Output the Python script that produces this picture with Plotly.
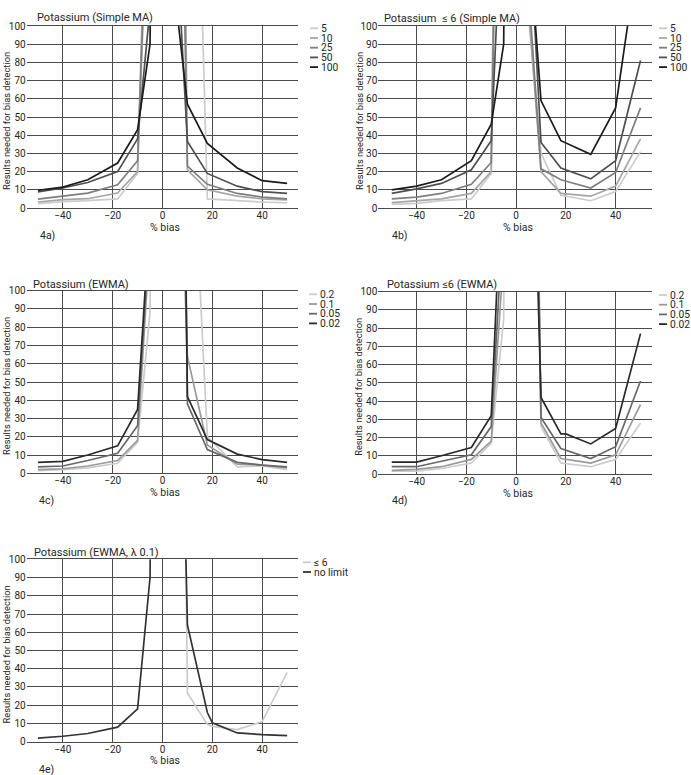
import plotly.graph_objects as go

W, H = 691, 775

# ---------------- data ----------------
bias = [-50, -40, -30, -18, -10, -5, 0, 5, 10, 18, 20, 30, 40, 50]

# 4a) Potassium (Simple MA)
ma_labels = ["5", "10", "25", "50", "100"]
ma_5   = [2.4, 3.5, 4.0, 5.0, 19, 203, 1000, 1000, 400, 5.0, None, 4.0, 3.3, 2.8]
ma_10  = [3.3, 4.6, 5.1, 8.2, 20, 255, 1000, 700, 21, 10, None, 6.5, 5.0, 4.5]
ma_25  = [4.9, 6.4, 8.2, 12.8, 26, 211, 1000, 400, 23, 13, None, 8.0, 6.0, 5.0]
ma_50  = [8.8, 11, 14, 20, 38, 110, 1000, 163, 36.5, 19, None, 12, 9.0, 8.0]
ma_100 = [9.7, 11.5, 15.5, 24.7, 43, 90, 1000, 118, 57, 35.5, None, 22, 15, 13.5]

# 4b) Potassium <= 6 (Simple MA)
mb_5   = [2.0, 2.5, 4.0, 5.0, 19, 590, 1000, 105, 30, 7.0, None, 4.0, 9.0, 31]
mb_10  = [3.0, 4.0, 5.0, 8.0, 20, 590, 1000, 110, 20, 8.0, None, 6.5, 12, 38]
mb_25  = [5.0, 6.0, 8.0, 13, 25, 400, 1000, 120, 21.5, 15.5, None, 11, 19.5, 55]
mb_50  = [8.0, 10.5, 13.5, 21, 37, 190, 1000, 164, 36, 22, None, 16, 26, 81]
mb_100 = [10, 12, 15.5, 26, 46, 90, 1000, 152, 59, 37, None, 29.5, 55, 149]

# 4c) Potassium (EWMA)
ew_labels = ["0.2", "0.1", "0.05", "0.02"]
ec_02  = [1.5, 2.0, 3.0, 5.5, 17, 88, 1000, 1000, 242, 20, None, 3.5, 4.0, 2.0]
ec_01  = [2.0, 2.5, 4.0, 7.0, 18, 129, 1000, 264, 64, 15.5, None, 5.0, 4.5, 3.0]
ec_005 = [3.5, 4.0, 7.0, 11, 26, 138, 1000, 600, 38, 13, None, 6.0, 4.5, 3.5]
ec_002 = [6.0, 6.5, 10, 15, 35, 143, 1000, 600, 42, 18.5, None, 10.5, 7.5, 6.0]

# 4d) Potassium <= 6 (EWMA)
ed_02  = [1.5, 1.5, 3.0, 6.0, 17, 85, 1000, 500, 26, 6.0, None, 4.0, 8.0, 28]
ed_01  = [2.0, 2.5, 4.0, 8.0, 18, 120, 1000, 500, 28, 8.5, None, 6.0, 10.5, 38]
ed_005 = [4.0, 4.0, 7.0, 10.5, 26, 145, 1000, 450, 31, 14, None, 8.5, 15, 51]
ed_002 = [6.5, 6.5, 10, 14.5, 32, 187, 1000, 284, 42, 22, 22, 16.5, 25, 77]

# 4e) Potassium (EWMA, lambda 0.1)
ee_labels = ["\u2264 6", "no limit"]
ee_le6   = [None, None, None, None, None, None, None, 637, 26.7, 9.5, 8.4, 6.6, 11, 38]
ee_nolim = [2.0, 3.0, 4.5, 8.0, 18, 90, 1000, 364, 64, 16, 10.3, 4.8, 3.9, 3.3]

y_ticks = [0, 10, 20, 30, 40, 50, 60, 70, 80, 90, 100]
x_ticks = [-40, -20, 0, 20, 40]

col5 = ["#cccccc", "#a6a6a6", "#7e7e7e", "#4f4f4f", "#1c1c1c"]
col4 = ["#cccccc", "#9a9a9a", "#686868", "#2a2a2a"]
col2 = ["#cccccc", "#333333"]

FONT = "Roboto"
TXT = "#262626"
GRID = "#4a4a4a"


def px(x):
    return x / W


def py(y):
    return 1 - y / H


panels = [
    dict(title="Potassium (Simple MA)", tag="4a)", xd=(26.7, 298.3), yd=(26, 208),
         xr=[-54.5, 54.5], tpos=(35, 17.5), lpos=(38, 235), leg=(310, 28.3),
         labels=ma_labels, colors=col5, series=[ma_5, ma_10, ma_25, ma_50, ma_100],
         ytx=6),
    dict(title="Potassium  \u2264 6 (Simple MA)", tag="4b)", xd=(378.3, 651.7), yd=(26, 208),
         xr=[-55.4, 54.5], tpos=(382, 18.3), lpos=(390, 235), leg=(659, 28.3),
         labels=ma_labels, colors=col5, series=[mb_5, mb_10, mb_25, mb_50, mb_100],
         ytx=359),
    dict(title="Potassium (EWMA)", tag="4c)", xd=(26.7, 298.3), yd=(290.7, 473.3),
         xr=[-54.5, 54.5], tpos=(30.7, 284), lpos=(37, 500), leg=(309, 294.3),
         labels=ew_labels, colors=col4, series=[ec_02, ec_01, ec_005, ec_002],
         ytx=6),
    dict(title="Potassium \u22646 (EWMA)", tag="4d)", xd=(378.3, 651.7), yd=(291.7, 474),
         xr=[-55.4, 54.5], tpos=(385, 284.3), lpos=(390, 500.7), leg=(659, 295),
         labels=ew_labels, colors=col4, series=[ed_02, ed_01, ed_005, ed_002],
         ytx=359),
    dict(title="Potassium (EWMA, \u03bb 0.1)", tag="4e)", xd=(26.7, 298.3), yd=(559.3, 741.7),
         xr=[-54.5, 54.5], tpos=(31.7, 552.7), lpos=(37, 769.3), leg=(303, 562.3),
         labels=ee_labels, colors=col2, series=[ee_le6, ee_nolim],
         ytx=6),
]

fig = go.Figure()
layout = dict(width=W, height=H, margin=dict(l=0, r=0, t=0, b=0, pad=0, autoexpand=False),
              paper_bgcolor="white", plot_bgcolor="white", showlegend=False,
              font=dict(family=FONT, size=10, color=TXT))
annotations = []
shapes = []

for i, p in enumerate(panels):
    k = "" if i == 0 else str(i + 1)
    xa, ya = "x" + k, "y" + k
    for lab, col, ys in zip(p["labels"], p["colors"], p["series"]):
        fig.add_trace(go.Scatter(x=bias, y=ys, mode="lines", name=lab, connectgaps=True,
                                 line=dict(color=col, width=1.7), xaxis=xa, yaxis=ya,
                                 hoverinfo="skip"))
    layout["xaxis" + k] = dict(domain=[px(p["xd"][0]), px(p["xd"][1])], range=p["xr"],
                               anchor=ya, tickvals=x_ticks, ticks="", showgrid=True,
                               gridcolor=GRID, gridwidth=1, zeroline=False, showline=True,
                               linecolor=GRID, linewidth=1, mirror=True, automargin=False,
                               ticklabelstandoff=-2,
                               tickfont=dict(size=10, color=TXT, family=FONT))
    layout["yaxis" + k] = dict(domain=[py(p["yd"][1]), py(p["yd"][0])], range=[0, 100],
                               anchor=xa, tickvals=y_ticks, ticks="", showgrid=True,
                               gridcolor=GRID, gridwidth=1, zeroline=False, showline=False,
                               automargin=False,
                               tickfont=dict(size=10, color=TXT, family=FONT))
    # title
    annotations.append(dict(text=p["title"], x=px(p["tpos"][0]), y=py(p["tpos"][1]),
                            xref="paper", yref="paper", xanchor="left", yanchor="middle",
                            showarrow=False, font=dict(size=11, color=TXT)))
    # panel tag
    annotations.append(dict(text=p["tag"], x=px(p["lpos"][0]), y=py(p["lpos"][1]),
                            xref="paper", yref="paper", xanchor="left", yanchor="middle",
                            showarrow=False, font=dict(size=10.5, color=TXT)))
    # x title
    xc = p["xd"][0] + (0 - p["xr"][0]) / (p["xr"][1] - p["xr"][0]) * (p["xd"][1] - p["xd"][0])
    annotations.append(dict(text="% bias", x=px(xc + 2), y=py(p["yd"][1] + 19),
                            xref="paper", yref="paper", xanchor="center", yanchor="middle",
                            showarrow=False, font=dict(size=10.5, color=TXT)))
    # y title
    annotations.append(dict(text="Results needed for bias detection", x=px(p["ytx"]),
                            y=py((p["yd"][0] + p["yd"][1]) / 2 + 4),
                            xref="paper", yref="paper", xanchor="center", yanchor="middle",
                            textangle=-90, showarrow=False, font=dict(size=9.3, color=TXT)))
    # legend
    lx, ly = p["leg"]
    for j, (lab, col) in enumerate(zip(p["labels"], p["colors"])):
        yy = ly + j * 9.7
        shapes.append(dict(type="line", xref="paper", yref="paper",
                           x0=px(lx), x1=px(lx + 8), y0=py(yy), y1=py(yy),
                           line=dict(color=col, width=1.8)))
        annotations.append(dict(text=lab, x=px(lx + 9), y=py(yy), xref="paper", yref="paper",
                                xanchor="left", yanchor="middle", showarrow=False,
                                font=dict(size=10.3, color=TXT)))

layout["annotations"] = annotations
layout["shapes"] = shapes
fig.update_layout(**layout)
fig.write_html("out.html", config={"displayModeBar": False},
               post_script="document.body.style.margin='0px';document.body.style.padding='0px';")
